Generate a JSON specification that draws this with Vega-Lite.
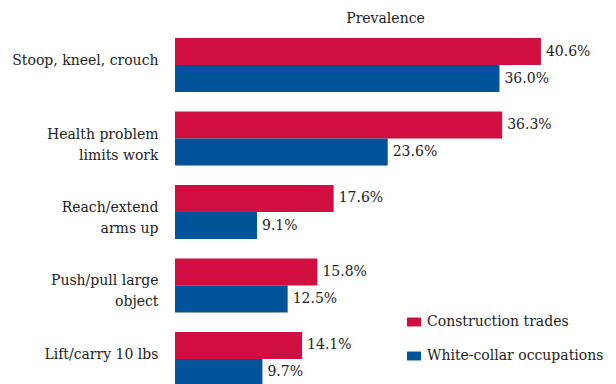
{
  "$schema": "https://vega.github.io/schema/vega-lite/v6.json",
  "width": 420,
  "height": 354,
  "autosize": {"type": "none"},
  "padding": {"left": 175, "top": 30, "right": 21, "bottom": 0},
  "background": "white",
  "config": {
    "font": "DejaVu Serif",
    "view": {"stroke": null}
  },
  "data": {
    "values": [
      {"activity": "Stoop, kneel, crouch", "group": "Construction trades", "value": 0.406},
      {"activity": "Stoop, kneel, crouch", "group": "White-collar occupations", "value": 0.360},
      {"activity": "Health problem|limits work", "group": "Construction trades", "value": 0.363},
      {"activity": "Health problem|limits work", "group": "White-collar occupations", "value": 0.236},
      {"activity": "Reach/extend|arms up", "group": "Construction trades", "value": 0.176},
      {"activity": "Reach/extend|arms up", "group": "White-collar occupations", "value": 0.091},
      {"activity": "Push/pull large|object", "group": "Construction trades", "value": 0.158},
      {"activity": "Push/pull large|object", "group": "White-collar occupations", "value": 0.125},
      {"activity": "Lift/carry 10 lbs", "group": "Construction trades", "value": 0.141},
      {"activity": "Lift/carry 10 lbs", "group": "White-collar occupations", "value": 0.097}
    ]
  },
  "encoding": {
    "y": {
      "field": "activity",
      "type": "nominal",
      "sort": null,
      "scale": {"range": [0, 364], "paddingInner": 0.265, "paddingOuter": 0.109},
      "axis": {
        "title": null,
        "domain": false,
        "ticks": false,
        "labelExpr": "split(datum.value, '|')",
        "labelFont": "DejaVu Serif",
        "labelFontSize": 14,
        "labelColor": "#222222",
        "labelPadding": 17,
        "labelOffset": -4,
        "labelLineHeight": 21,
        "labelLimit": 200
      }
    },
    "yOffset": {
      "field": "group",
      "type": "nominal",
      "sort": ["Construction trades", "White-collar occupations"],
      "scale": {"paddingInner": 0, "paddingOuter": 0}
    },
    "x": {
      "field": "value",
      "type": "quantitative",
      "scale": {"domain": [0, 0.466], "nice": false},
      "axis": {
        "orient": "top",
        "title": "Prevalence",
        "titleFont": "DejaVu Serif",
        "titleFontSize": 14,
        "titleFontWeight": "normal",
        "titleColor": "#222222",
        "titlePadding": 5,
        "labels": false,
        "ticks": false,
        "domain": false,
        "grid": false
      }
    }
  },
  "layer": [
    {
      "mark": {"type": "bar", "clip": true},
      "encoding": {
        "color": {
          "field": "group",
          "type": "nominal",
          "sort": ["Construction trades", "White-collar occupations"],
          "scale": {
            "domain": ["Construction trades", "White-collar occupations"],
            "range": ["#CF0F3F", "#005398"]
          },
          "legend": {
            "title": null,
            "orient": "none",
            "legendX": 232,
            "legendY": 285,
            "labelFont": "DejaVu Serif",
            "labelFontSize": 14,
            "labelColor": "#222222",
            "labelOffset": 6,
            "rowPadding": 20,
            "padding": 0,
            "symbolType": "M-1,-0.64H1V0.64H-1Z",
            "symbolSize": 196,
            "symbolStrokeWidth": 0,
            "labelLimit": 300
          }
        }
      }
    },
    {
      "mark": {"type": "text", "align": "left", "baseline": "middle", "dx": 5, "fontSize": 14, "color": "#222222", "font": "DejaVu Serif"},
      "encoding": {
        "text": {"field": "value", "type": "quantitative", "format": ".1%"}
      }
    }
  ]
}
